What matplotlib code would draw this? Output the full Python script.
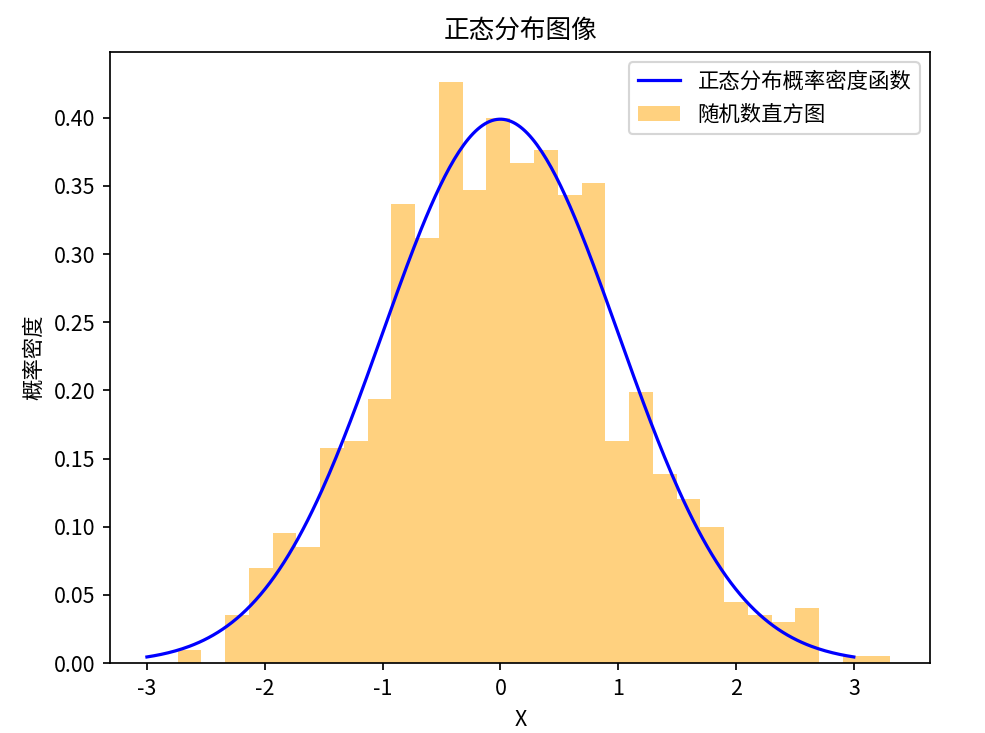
import numpy as np
import matplotlib
matplotlib.use("Agg")
import matplotlib.pyplot as plt

plt.rcParams['font.family'] = ['Noto Sans CJK SC', 'DejaVu Sans']
plt.rcParams['axes.unicode_minus'] = False

bin_start = -2.74
bin_width = 0.2017
densities = [0.0095, 0.0, 0.035, 0.070, 0.095, 0.085, 0.158, 0.163, 0.194, 0.337,
             0.312, 0.426, 0.347, 0.400, 0.367, 0.376, 0.343, 0.352, 0.163, 0.199,
             0.139, 0.120, 0.100, 0.045, 0.035, 0.030, 0.040, 0.0, 0.005, 0.005]
mu, sigma = 0.0, 1.0

fig = plt.figure(figsize=(6.4, 4.76), dpi=154)
ax = fig.add_axes([0.112, 0.0955, 0.832, 0.834])

edges = bin_start + bin_width * np.arange(len(densities))
ax.bar(edges, densities, width=bin_width, align='edge', color='orange', alpha=0.5,
       label='随机数直方图')
x = np.linspace(-3, 3, 300)
ax.plot(x, np.exp(-(x - mu) ** 2 / (2 * sigma ** 2)) / (sigma * np.sqrt(2 * np.pi)),
        color='blue', label='正态分布概率密度函数')

ax.set_xlim(-3.31, 3.65)
ax.set_ylim(0, 0.4485)
ax.set_title('正态分布图像')
ax.set_xlabel('X')
ax.set_ylabel('概率密度')
ax.legend(loc='upper right')
fig.savefig('out.png', dpi=154)
